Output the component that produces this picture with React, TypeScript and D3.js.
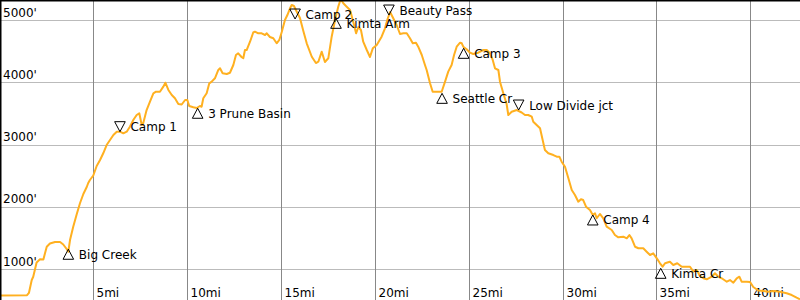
import React from "react";
import * as d3 from "d3";

const miles = [0.03,1.47,1.57,1.72,1.80,1.98,2.16,2.34,2.43,2.52,2.69,2.96,3.23,3.40,3.58,3.67,3.76,3.93,4.12,4.29,4.47,4.65,4.73,4.82,5.00,5.18,5.36,5.53,5.71,5.89,6.07,6.25,6.42,6.60,6.78,6.95,7.13,7.31,7.45,7.58,7.66,7.84,8.02,8.20,8.34,8.55,8.73,8.84,9.00,9.18,9.35,9.53,9.71,9.89,10.01,10.11,10.33,10.51,10.68,10.77,10.86,11.04,11.18,11.31,11.48,11.66,11.75,11.89,12.11,12.28,12.46,12.60,12.72,12.91,12.99,13.08,13.17,13.35,13.52,13.61,13.79,13.97,14.15,14.24,14.41,14.59,14.77,14.91,15.04,15.21,15.34,15.48,15.57,15.69,15.84,16.01,16.19,16.37,16.64,16.86,16.99,17.17,17.34,17.52,17.70,17.88,18.05,18.18,18.32,18.50,18.68,18.85,19.00,19.12,19.26,19.38,19.57,19.74,19.89,20.10,20.36,20.54,20.66,20.81,20.98,21.16,21.34,21.52,21.70,21.87,22.02,22.19,22.31,22.50,22.67,22.76,22.94,23.08,23.29,23.56,23.74,23.91,24.09,24.22,24.36,24.54,24.63,24.71,24.89,25.07,25.24,25.51,25.78,25.96,26.13,26.28,26.40,26.58,26.67,26.84,27.02,27.11,27.29,27.56,27.82,28.00,28.17,28.36,28.44,28.62,28.80,28.94,29.06,29.24,29.51,29.69,29.83,29.95,30.13,30.31,30.49,30.66,30.84,30.98,31.10,31.25,31.46,31.61,31.73,31.82,31.99,32.17,32.35,32.62,32.79,32.97,33.24,33.42,33.56,33.68,33.86,34.04,34.30,34.48,34.66,34.83,35.02,35.19,35.33,35.46,35.72,35.90,36.11,36.35,36.52,36.79,36.97,37.15,37.32,37.50,37.68,37.95,38.12,38.30,38.48,38.75,38.92,39.10,39.28,39.42,39.54,39.81,39.99,40.16,40.43,40.69,40.96,41.23,41.58,41.94,42.21,42.47,42.65];

const elevFt = [574,579,615,823,876,1105,1156,1153,1257,1358,1410,1434,1434,1394,1321,1278,1466,1680,1884,2056,2205,2317,2382,2430,2502,2655,2751,2859,2992,3072,3153,3206,3206,3180,3206,3286,3394,3474,3501,3313,3341,3554,3688,3823,3848,3848,3929,3993,3876,3795,3742,3651,3643,3715,3715,3619,3598,3586,3619,3607,3742,3823,3983,4009,4064,4197,4224,4144,4133,4153,4277,4438,4465,4401,4385,4518,4518,4651,4799,4812,4786,4786,4759,4786,4727,4706,4626,4679,4807,5000,5080,5188,5241,5225,5133,5032,4823,4626,4410,4309,4330,4491,4325,4385,4732,5000,5214,5337,5268,5214,5161,4968,4786,4888,4839,4651,4518,4406,4545,4598,4732,4867,5000,5129,5027,4920,4775,4786,4786,4706,4626,4635,4571,4438,4277,4197,3983,3848,3848,3848,4009,4170,4277,4438,4571,4635,4626,4571,4529,4475,4454,4475,4518,4518,4465,4358,4224,4197,4004,3827,3651,3474,3527,3554,3514,3474,3474,3447,3366,3313,3260,3072,2912,2859,2831,2804,2804,2724,2643,2457,2269,2189,2081,2120,2108,2001,1948,1868,1895,1815,1884,1815,1680,1627,1546,1509,1519,1493,1546,1493,1358,1333,1333,1278,1225,1252,1172,1092,1037,1092,1117,1064,1092,1037,1037,1037,957,984,888,851,835,876,931,876,851,796,823,780,851,876,796,796,791,711,655,647,635,647,635,610,582,539,513];

const wpNames = ["Big Creek","Camp 1","3 Prune Basin","Camp 2","Kimta Arm","Beauty Pass","Seattle Cr","Camp 3","Low Divide jct","Camp 4","Kimta Cr"];
const wpMiles = [3.67,6.42,10.56,15.75,17.93,20.75,23.58,24.73,27.66,31.61,35.23];
const wpElev = [1317,3206,3582,5016,5027,5080,3822,4545,3554,1868,1011];
const wpDir = ["up","down","up","down","up","down","up","up","down","up","up"];

const xTicks = [5,10,15,20,25,30,35,40];
const yTicks = [1000,2000,3000,4000,5000];

const W = 800;
const H = 300;

export default function App() {
  React.useEffect(() => {
    document.body.style.margin = "0";
  }, []);
  const x = d3.scaleLinear().domain([0, 42.65]).range([-0.55, 800]);
  const y = d3.scaleLinear().domain([0, 5321.3]).range([331.26, 0]);
  const pts: [number, number][] = miles.map((m, i) => [m, elevFt[i]]);
  const line = d3.line<[number, number]>().x(d => x(d[0])).y(d => y(d[1]));
  const font = "DejaVu Sans, sans-serif";
  return (
    <svg width={W} height={H} style={{ display: "block", position: "absolute", left: 0, top: 0 }} fontFamily={font}>
      <rect x={0} y={0} width={W} height={H} fill="#fff" />
      {yTicks.map(t => {
        const yy = Math.round(y(t)) + 0.5;
        return <line key={"h" + t} x1={0} x2={W} y1={yy} y2={yy} stroke="#bbbbbb" strokeWidth={1} />;
      })}
      {xTicks.map(t => {
        const xx = Math.round(x(t)) + 0.5;
        return <line key={"v" + t} x1={xx} x2={xx} y1={0} y2={H} stroke="#888888" strokeWidth={1} />;
      })}
      {yTicks.map(t => (
        <text key={"yl" + t} x={3} y={y(t) - 3.3} fontSize={12} fill="#000">{t + "'"}</text>
      ))}
      {xTicks.map(t => (
        <text key={"xl" + t} x={Math.round(x(t)) + 3.5} y={296.5} fontSize={12} fill="#000">{t + "mi"}</text>
      ))}
      <defs>
        <clipPath id="plotclip"><rect x={0} y={0} width={W} height={H} /></clipPath>
      </defs>
      <path d={line(pts) || ""} fill="none" stroke="#ffb020" strokeWidth={2} strokeLinejoin="round" clipPath="url(#plotclip)" />
      {wpNames.map((n, i) => {
        const cx = x(wpMiles[i]);
        const ay = y(wpElev[i]);
        const up = wpDir[i] === "up";
        const hw = 5.3;
        const h = 10;
        const by = up ? ay + h : ay - h;
        const cy = (ay + by) / 2;
        const d = `M${cx},${ay}L${cx - hw},${by}L${cx + hw},${by}Z`;
        return (
          <g key={"wp" + i}>
            <path d={d} fill="none" stroke="#000" strokeWidth={1} />
            <text x={cx + 10.5} y={cy + 4.5} fontSize={12} fill="#000">{n}</text>
          </g>
        );
      })}
      <line x1={0} x2={W} y1={0.75} y2={0.75} stroke="#000" strokeWidth={1.5} />
      <line x1={0.75} x2={0.75} y1={0} y2={H} stroke="#000" strokeWidth={1.5} />
    </svg>
  );
}
